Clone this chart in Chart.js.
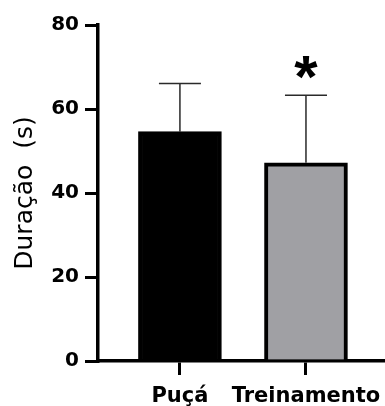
<!DOCTYPE html>
<html>
<head>
<meta charset="utf-8">
<script src="https://cdn.jsdelivr.net/npm/chart.js@4.4.1/dist/chart.umd.min.js"></script>
<style>
  html, body { margin: 0; padding: 0; background: #fff; }
  canvas { display: block; }
</style>
</head>
<body>
<canvas id="myChart" width="385" height="406"></canvas>
<script>
const categorias = ['Puçá', 'Treinamento'];
const medias = [54.6, 47.2];
const desvios = [11.5, 16.1];
const significativo = [false, true];
const ticksY = [0, 20, 40, 60, 80];

// barras de erro (só para cima) e asterisco
const barrasDeErro = {
  id: 'barrasDeErro',
  afterDatasetsDraw(chart) {
    const ctx = chart.ctx;
    const y = chart.scales.y;
    const barras = chart.getDatasetMeta(0).data;
    ctx.save();
    barras.forEach((barra, i) => {
      const topo = y.getPixelForValue(medias[i] + desvios[i]);
      const base = y.getPixelForValue(medias[i]);
      ctx.strokeStyle = '#2a2a2a';
      ctx.lineWidth = 1.5;
      ctx.beginPath();
      ctx.moveTo(barra.x, base);
      ctx.lineTo(barra.x, topo);
      ctx.moveTo(barra.x - 21, topo);
      ctx.lineTo(barra.x + 21, topo);
      ctx.stroke();
      if (significativo[i]) {
        ctx.fillStyle = '#000';
        ctx.font = 'bold 60px "Liberation Sans"';
        ctx.textAlign = 'center';
        ctx.textBaseline = 'alphabetic';
        const m = ctx.measureText('*');
        const meio = (m.actualBoundingBoxAscent - m.actualBoundingBoxDescent) / 2;
        ctx.fillText('*', barra.x, topo - 28 + meio);
      }
    });
    ctx.restore();
  }
};

const ctx = document.getElementById('myChart');
const myChart = new Chart(ctx, {
  type: 'bar',
  data: {
    datasets: [{
      data: categorias.map((c, i) => ({ x: i + 1, y: medias[i] })),
      backgroundColor: ['#000000', '#a0a0a4'],
      borderColor: '#000000',
      borderWidth: 4,
      barThickness: 83
    }]
  },
  options: {
    responsive: false,
    animation: false,
    layout: { padding: { top: 25, right: 0, left: 0, bottom: 0 } },
    plugins: {
      legend: { display: false },
      tooltip: { enabled: false }
    },
    scales: {
      x: {
        type: 'linear',
        offset: false,
        min: 0.35,
        max: 2.627,
        afterBuildTicks: (s) => { s.ticks = categorias.map((c, i) => ({ value: i + 1 })); },
        afterFit: (s) => {
          s.height = 45;
          s.paddingLeft = 0;
          s.paddingRight = 0;
        },
        ticks: {
          callback: (v) => categorias[v - 1],
          font: { family: 'DejaVu Sans', size: 21, weight: 'bold' },
          color: '#000',
          padding: 9,
          maxRotation: 0,
          autoSkip: false
        },
        grid: { offset: false, drawOnChartArea: false, tickLength: 14, lineWidth: 3, color: '#000' },
        border: { display: true, width: 3.5, color: '#000' }
      },
      y: {
        min: 0,
        max: 80,
        afterBuildTicks: (s) => { s.ticks = ticksY.map(v => ({ value: v })); },
        afterFit: (s) => { s.width = 98; },
        ticks: {
          font: { family: 'DejaVu Sans', size: 20, weight: 'bold' },
          color: '#000',
          padding: 6
        },
        grid: { drawOnChartArea: false, tickLength: 13, lineWidth: 3, color: '#000' },
        border: { display: true, width: 3.5, color: '#000' },
        title: {
          display: true,
          text: 'Duração  (s)',
          font: { family: 'DejaVu Sans', size: 25 },
          color: '#000',
          padding: { top: 10, bottom: 0 }
        }
      }
    }
  },
  plugins: [barrasDeErro]
});
</script>
</body>
</html>
